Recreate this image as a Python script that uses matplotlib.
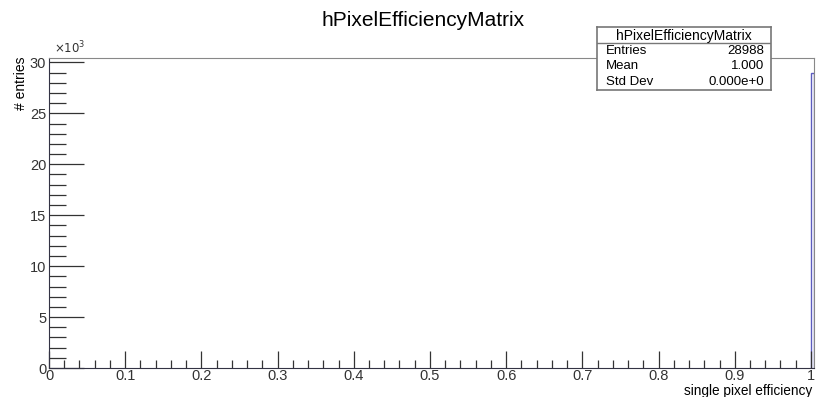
import numpy as np
import matplotlib.pyplot as plt
from matplotlib.ticker import MultipleLocator, FuncFormatter

plt.rcParams['font.family'] = ['Liberation Sans', 'DejaVu Sans']

# histogram contents
bin_edges = [1.0, 1.004]
counts = [28988]
x_range = (0.0, 1.004)
y_max = 30437

title = "hPixelEfficiencyMatrix"
stats_rows = [("Entries", "28988"), ("Mean", "1.000"), ("Std Dev", "0.000e+0")]

fig = plt.figure(figsize=(8.17, 3.97), dpi=100)
ax = fig.add_axes([49/817, 1-368/397, (814-49)/817, (368-58)/397])

ax.stairs(counts, bin_edges, color='#5c5cbf', lw=1.0)
ax.set_xlim(*x_range)
ax.set_ylim(0, y_max)

ax.xaxis.set_major_locator(MultipleLocator(0.1))
ax.xaxis.set_minor_locator(MultipleLocator(0.02))
ax.yaxis.set_major_locator(MultipleLocator(5000))
ax.yaxis.set_minor_locator(MultipleLocator(1000))
ax.xaxis.set_major_formatter(FuncFormatter(lambda v, p: f"{v:g}"))
ax.yaxis.set_major_formatter(FuncFormatter(lambda v, p: f"{v/1000:g}"))
ax.tick_params(axis='both', which='both', direction='in', labelsize=10.5, colors='#333333')
ax.tick_params(axis='x', which='major', length=12, width=0.9, pad=1)
ax.tick_params(axis='x', which='minor', length=6, width=0.9)
ax.tick_params(axis='y', which='major', length=25, width=0.9, pad=2)
ax.tick_params(axis='y', which='minor', length=12, width=0.9)
for s in ['left', 'bottom']:
    ax.spines[s].set_color('#333344')
for s in ['top', 'right']:
    ax.spines[s].set_color('#888888')

fig.text(54/817, 1-48/397, r"$\times10^{3}$", fontsize=8.5, ha='left', va='center', color='#333333')
fig.text(21/817, 1-57/397, "# entries", rotation=90, fontsize=10, ha='center', va='top')
fig.text(812/817, 1-390.5/397, "single pixel efficiency", fontsize=9.8, ha='right', va='center')
fig.text(423/817, 1-20/397, title, fontsize=15, ha='center', va='center')

# stats box
bx0, bx1, by0, by1 = 597, 771, 27, 90
sax = fig.add_axes([bx0/817, 1-by1/397, (bx1-bx0)/817, (by1-by0)/397])
sax.set_xlim(0, 1)
sax.set_ylim(0, 4)
sax.set_xticks([])
sax.set_yticks([])
for s in sax.spines.values():
    s.set_color('#777777')
    s.set_linewidth(1.2)
sax.axhline(3, color='#777777', lw=1.0)
sax.text(0.5, 3.45, title, ha='center', va='center', fontsize=10)
for i, (k, v) in enumerate(stats_rows):
    yy = 2.5 - i
    sax.text(0.05, yy, k, ha='left', va='center', fontsize=9.5)
    sax.text(0.96, yy, v, ha='right', va='center', fontsize=9.5)

fig.savefig("out.png", dpi=100)
